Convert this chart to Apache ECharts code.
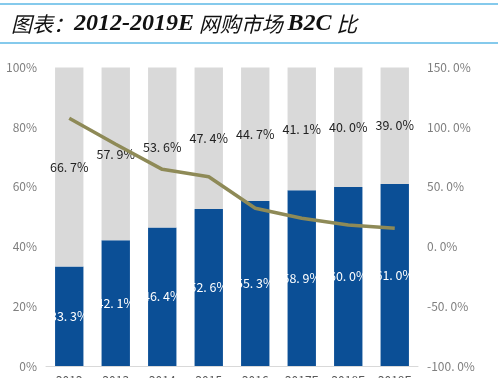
<!DOCTYPE html>
<html>
<head>
<meta charset="utf-8">
<script src="https://cdn.jsdelivr.net/npm/echarts@6/dist/echarts.min.js"></script>
<style>html,body{margin:0;padding:0;background:#fff;}#c{width:500px;height:378px;}</style>
</head>
<body>
<div id="c"></div>
<script>
var categories = ['2012', '2013', '2014', '2015', '2016', '2017E', '2018E', '2019E'];
var b2cShare = [33.3, 42.1, 46.4, 52.6, 55.3, 58.9, 60.0, 61.0];
var c2cShare = [66.7, 57.9, 53.6, 47.4, 44.7, 41.1, 40.0, 39.0];
var growthLine = [107.5, 85.7, 64.7, 58.5, 32.1, 23.7, 18.1, 15.3];
var leftTicks = [0, 20, 40, 60, 80, 100];
var rightTicks = [-100, -50, 0, 50, 100, 150];

function pct1(v) {
  var s = Number(v).toFixed(1).split('.');
  return s[0] + '. ' + s[1] + '%';
}

var chart = echarts.init(document.getElementById('c'));
var font = '"Noto Sans CJK SC", "Noto Sans", sans-serif';
chart.setOption({
  animation: false,
  backgroundColor: '#fff',
  title: {
    left: 6, top: 7,
    text: '{c|图表：}{l|2012-2019E}{c| 网购市场 }{l|B2C}{c| 比}',
    textStyle: {
      rich: {
        c: { fontFamily: '"Noto Sans CJK SC"', fontSize: 21, fontStyle: 'italic', fontWeight: 'normal', color: '#111' },
        l: { fontFamily: '"Liberation Serif"', fontSize: 24, fontStyle: 'italic', fontWeight: 'bold', color: '#111' }
      }
    }
  },
  graphic: [
    { type: 'line', shape: { x1: 0, y1: 4, x2: 498, y2: 4 }, style: { stroke: '#5DB8E6', lineWidth: 1.5 } },
    { type: 'line', shape: { x1: 0, y1: 43, x2: 498, y2: 43 }, style: { stroke: '#5DB8E6', lineWidth: 1.5 } }
  ],
  grid: { left: 46, right: 82, top: 67.5, bottom: 12, containLabel: false, outerBoundsMode: 'none' },
  xAxis: {
    type: 'category',
    data: categories,
    axisLine: { lineStyle: { color: '#D9D9D9' } },
    axisTick: { show: false },
    axisLabel: { color: '#595959', fontSize: 12, margin: 8, fontFamily: font }
  },
  yAxis: [
    {
      type: 'value', min: leftTicks[0], max: leftTicks[leftTicks.length - 1], interval: 20,
      splitLine: { show: false },
      axisLine: { show: false }, axisTick: { show: false },
      axisLabel: { formatter: '{value}%', color: '#7F7F7F', fontSize: 12, margin: 9, fontFamily: font }
    },
    {
      type: 'value', min: rightTicks[0], max: rightTicks[rightTicks.length - 1], interval: 50,
      splitLine: { show: false },
      axisLine: { show: false }, axisTick: { show: false },
      axisLabel: { formatter: function (v) { return pct1(v); }, color: '#7F7F7F', fontSize: 12, margin: 9, fontFamily: font }
    }
  ],
  series: [
    {
      name: 'B2C', type: 'bar', stack: 's', data: b2cShare, barWidth: '61%',
      itemStyle: { color: '#0B4F96' },
      label: { show: true, position: 'inside', color: '#fff', fontSize: 12.5, fontFamily: font, formatter: function (p) { return pct1(p.value); } }
    },
    {
      name: 'C2C', type: 'bar', stack: 's', data: c2cShare, barWidth: '61%',
      itemStyle: { color: '#D9D9D9' },
      label: { show: true, position: 'inside', color: '#222', fontSize: 12.5, fontFamily: font, formatter: function (p) { return pct1(p.value); } }
    },
    {
      name: 'growth', type: 'line', yAxisIndex: 1, data: growthLine,
      symbol: 'none', lineStyle: { color: '#8E8A57', width: 3.5 }, z: 5
    }
  ]
});
</script>
</body>
</html>
